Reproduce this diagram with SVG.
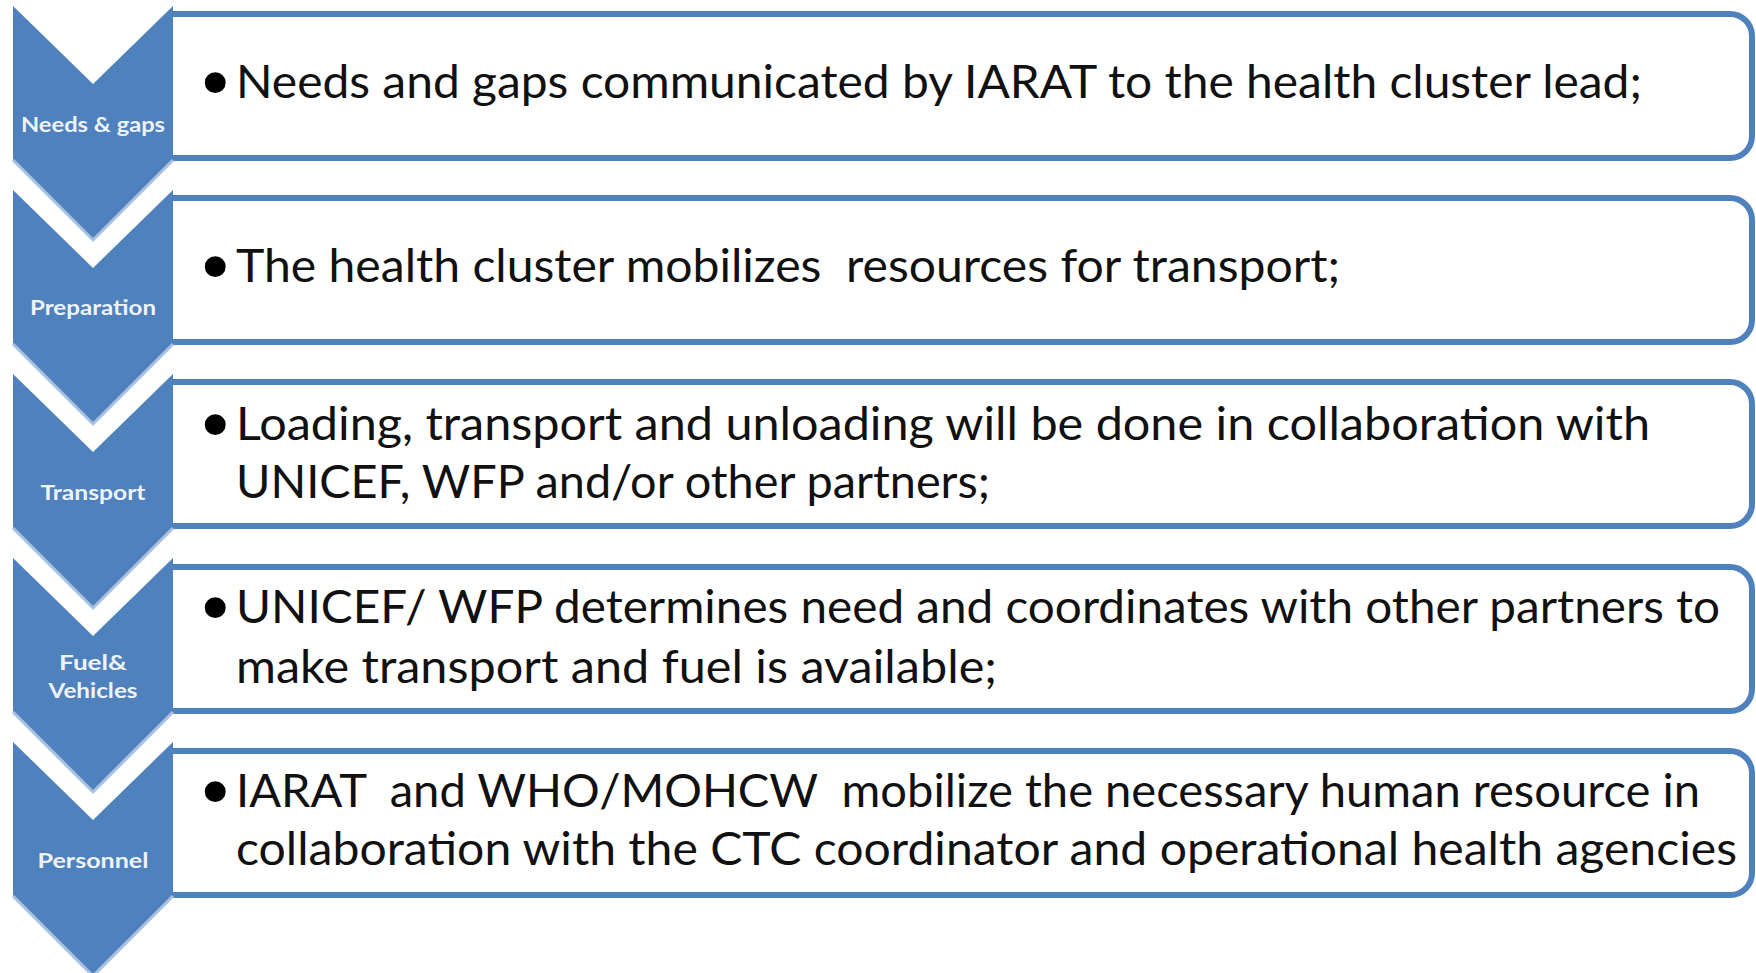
<svg xmlns="http://www.w3.org/2000/svg" width="1756" height="973" viewBox="0 0 1756 973">
  <defs>
    <style>
      .bg { fill: #ffffff; }
      .chev { fill: #4f81bd; }
      .chev-edge { fill: none; stroke: #a9c1e0; stroke-width: 3; stroke-linejoin: miter; }
      .box { fill: #ffffff; stroke: #4f81bd; stroke-width: 6; }
      .label { font-family: Lato, "Noto Sans", "DejaVu Sans", sans-serif; font-weight: 700; font-size: 20px; fill: #eef3fa; text-anchor: middle; }
      .body { font-family: Lato, "Noto Sans", "DejaVu Sans", sans-serif; font-weight: 400; font-size: 46px; fill: #111111; }
      .bullet { font-family: "DejaVu Sans", sans-serif; font-size: 72px; fill: #000000; }
    </style>
  </defs>

  <rect class="bg" x="0" y="0" width="1756" height="973"/>

  <!-- Step 1: Needs & gaps (top at y=6) -->
  <g id="step-needs-gaps">
    <path class="box" d="M173,14 H1730 A22,22 0 0 1 1752,36 V136 A22,22 0 0 1 1730,158 H173"/>
    <polygon class="chev" points="13,6 93,84 173,6 173,160 93,240 13,160"/>
    <polyline class="chev-edge" points="13,160 93,240 173,160"/>
    <text class="label" x="93" y="132" textLength="144" lengthAdjust="spacingAndGlyphs">Needs &amp; gaps</text>
    <text class="bullet" x="194" y="109">•</text>
    <text class="body" x="236" y="98" textLength="1406" lengthAdjust="spacingAndGlyphs">Needs and gaps communicated by IARAT to the health cluster lead;</text>
  </g>

  <!-- Step 2: Preparation (top at y=190) -->
  <g id="step-preparation">
    <path class="box" d="M173,198 H1730 A22,22 0 0 1 1752,220 V320 A22,22 0 0 1 1730,342 H173"/>
    <polygon class="chev" points="13,190 93,268 173,190 173,344 93,424 13,344"/>
    <polyline class="chev-edge" points="13,344 93,424 173,344"/>
    <text class="label" x="93" y="315" textLength="126" lengthAdjust="spacingAndGlyphs">Preparation</text>
    <text class="bullet" x="194" y="293">•</text>
    <text class="body" x="236" y="282" textLength="1104" lengthAdjust="spacingAndGlyphs" xml:space="preserve">The health cluster mobilizes  resources for transport;</text>
  </g>

  <!-- Step 3: Transport (top at y=374) -->
  <g id="step-transport">
    <path class="box" d="M173,382 H1730 A22,22 0 0 1 1752,404 V504 A22,22 0 0 1 1730,526 H173"/>
    <polygon class="chev" points="13,374 93,452 173,374 173,528 93,608 13,528"/>
    <polyline class="chev-edge" points="13,528 93,608 173,528"/>
    <text class="label" x="93" y="500" textLength="105" lengthAdjust="spacingAndGlyphs">Transport</text>
    <text class="bullet" x="194" y="451">•</text>
    <text class="body" x="236" y="440" textLength="1414" lengthAdjust="spacingAndGlyphs">Loading, transport and unloading will be done in collaboration with</text>
    <text class="body" x="236" y="498" textLength="754" lengthAdjust="spacingAndGlyphs">UNICEF, WFP and/or other partners;</text>
  </g>

  <!-- Step 4: Fuel & Vehicles (top at y=558) -->
  <g id="step-fuel-vehicles">
    <path class="box" d="M173,567 H1730 A22,22 0 0 1 1752,589 V689 A22,22 0 0 1 1730,711 H173"/>
    <polygon class="chev" points="13,558 93,636 173,558 173,712 93,792 13,712"/>
    <polyline class="chev-edge" points="13,712 93,792 173,712"/>
    <text class="label" x="93" y="670" textLength="68" lengthAdjust="spacingAndGlyphs">Fuel&amp;</text>
    <text class="label" x="93" y="698" textLength="89" lengthAdjust="spacingAndGlyphs">Vehicles</text>
    <text class="bullet" x="194" y="634">•</text>
    <text class="body" x="236" y="623" textLength="1484" lengthAdjust="spacingAndGlyphs">UNICEF/ WFP determines need and coordinates with other partners to</text>
    <text class="body" x="236" y="683" textLength="761" lengthAdjust="spacingAndGlyphs">make transport and fuel is available;</text>
  </g>

  <!-- Step 5: Personnel (top at y=742) -->
  <g id="step-personnel">
    <path class="box" d="M173,751 H1730 A22,22 0 0 1 1752,773 V873 A22,22 0 0 1 1730,895 H173"/>
    <polygon class="chev" points="13,742 93,820 173,742 173,896 93,976 13,896"/>
    <polyline class="chev-edge" points="13,896 93,976 173,896"/>
    <text class="label" x="93" y="868" textLength="111" lengthAdjust="spacingAndGlyphs">Personnel</text>
    <text class="bullet" x="194" y="818">•</text>
    <text class="body" x="236" y="807" textLength="1464" lengthAdjust="spacingAndGlyphs" xml:space="preserve">IARAT  and WHO/MOHCW  mobilize the necessary human resource in</text>
    <text class="body" x="236" y="865" textLength="1501" lengthAdjust="spacingAndGlyphs">collaboration with the CTC coordinator and operational health agencies</text>
  </g>

  <!-- the steps are chained by the chevrons themselves; no separate connector lines -->
  <g id="connectors"/>
</svg>
